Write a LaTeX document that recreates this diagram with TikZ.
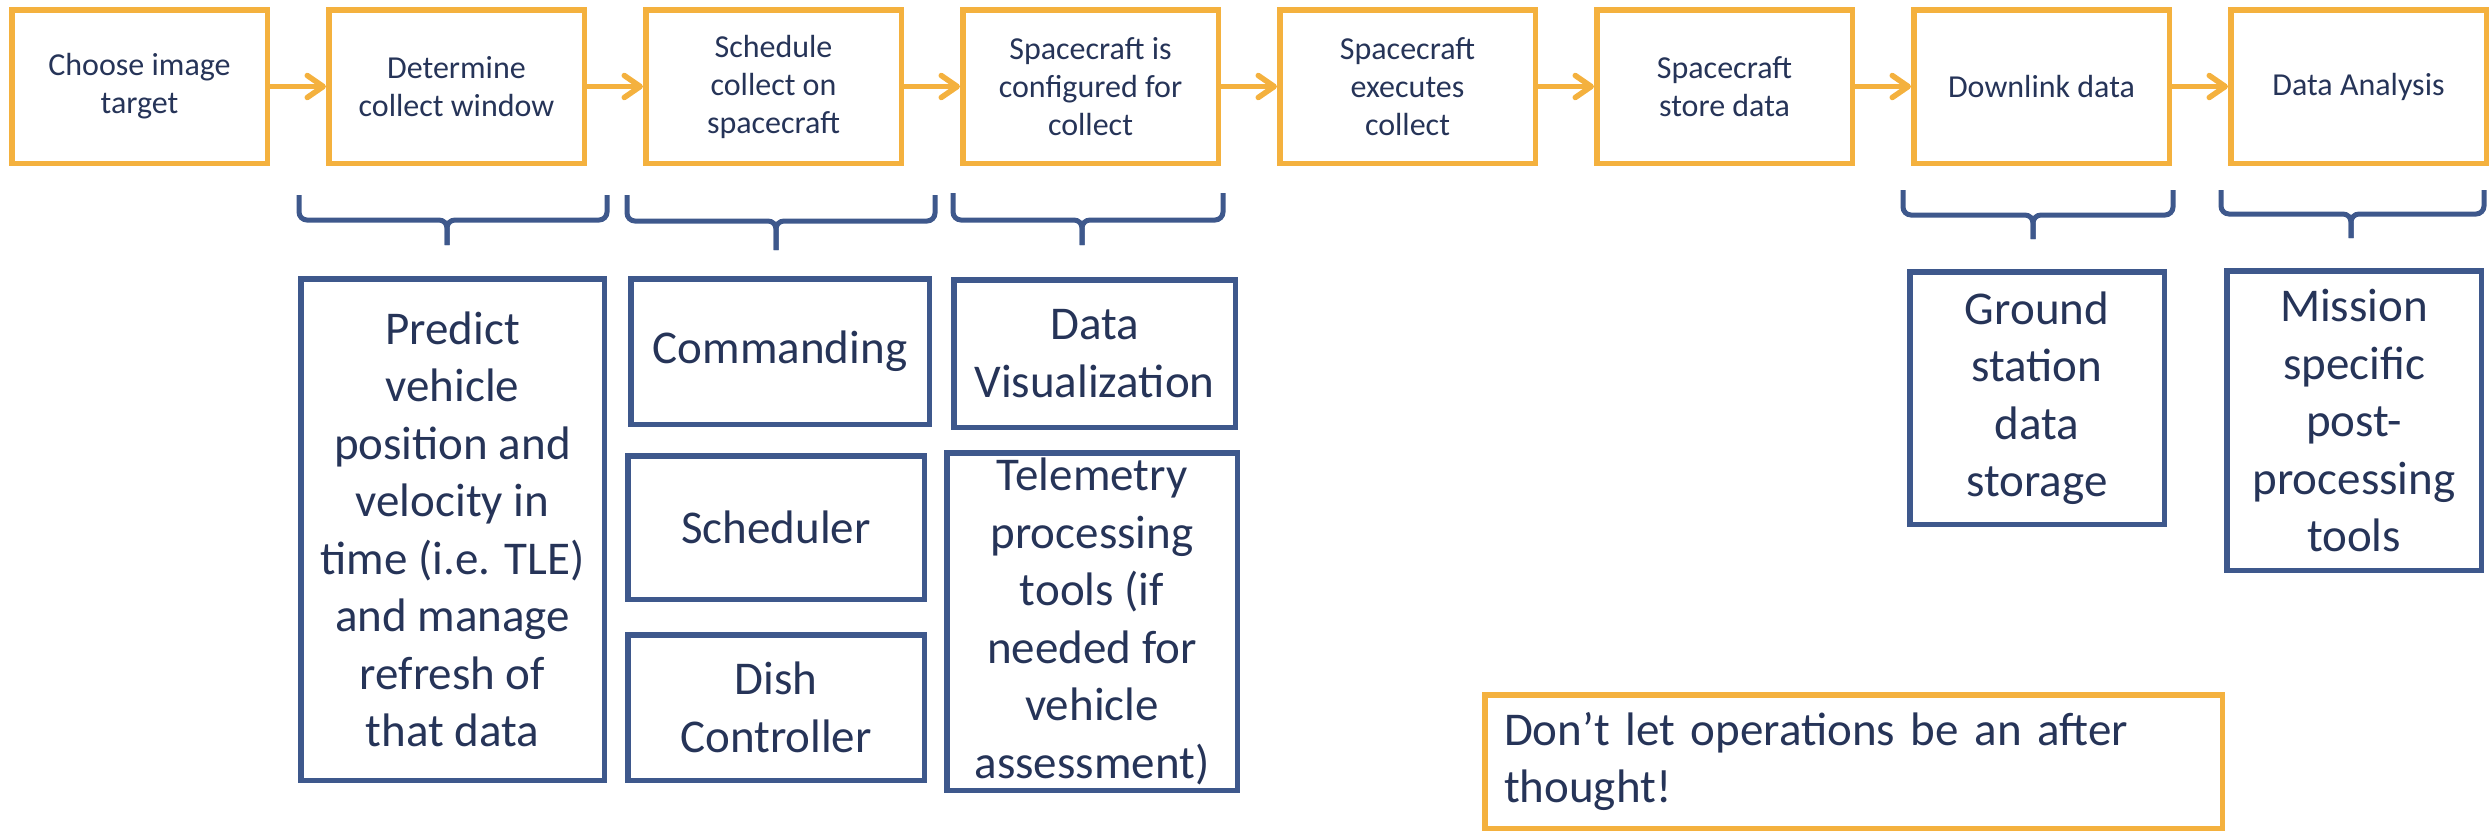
\documentclass[tikz,border=0pt]{standalone}
\usepackage{fontspec}
\setmainfont{Carlito}
\usetikzlibrary{arrows.meta}
\definecolor{gold}{HTML}{F4B13E}
\definecolor{navy}{HTML}{3E588C}
\definecolor{txt}{HTML}{263458}
\begin{document}
\begin{tikzpicture}[x=0.5pt,y=-0.5pt,
  stepbox/.style={draw=gold, line width=2.75pt, inner sep=0pt, align=center, text=txt,
    font=\fontsize{16}{19}\selectfont, minimum width=127.75pt, minimum height=76.75pt},
  toolbox/.style={draw=navy, line width=2.75pt, inner sep=0pt, align=center, text=txt,
    font=\fontsize{23.5}{28.75}\selectfont},
  arr/.style={draw=gold, line width=2.75pt, -{Straight Barb[length=8pt,width=11pt,round]}},
  brk/.style={draw=navy, line width=2.5pt, rounded corners=4pt}]
\useasboundingbox (0,0) rectangle (2491,831);

% process steps
\node[stepbox] (s1) at (139.5,86.5) {Choose image\\target};
\node[stepbox] (s2) at (456.5,86.5) {Determine\\collect window};
\node[stepbox] (s3) at (773.5,86.5) {Schedule\\collect on\\spacecraft};
\node[stepbox] (s4) at (1090.5,86.5) {Spacecraft is\\configured for\\collect};
\node[stepbox] (s5) at (1407.5,86.5) {Spacecraft\\executes\\collect};
\node[stepbox] (s6) at (1724.5,86.5) {Spacecraft\\store data};
\node[stepbox] (s7) at (2041.5,86.5) {Downlink data};
\node[stepbox] (s8) at (2358.5,86.5) {Data Analysis};

\draw[arr] (s1) -- (s2);
\draw[arr] (s2) -- (s3);
\draw[arr] (s3) -- (s4);
\draw[arr] (s4) -- (s5);
\draw[arr] (s5) -- (s6);
\draw[arr] (s6) -- (s7);
\draw[arr] (s7) -- (s8);

% brackets
\draw[brk] (299,195) |- (447,220) -- (447,245);
\draw[brk] (607,195) |- (447,220) -- (447,245);
\draw[brk] (627,195) |- (776,221) -- (776,250);
\draw[brk] (935,195) |- (776,221) -- (776,250);
\draw[brk] (953,193) |- (1082,220) -- (1082,245);
\draw[brk] (1223,193) |- (1082,220) -- (1082,245);
\draw[brk] (1903,190) |- (2033,215) -- (2033,239);
\draw[brk] (2173,190) |- (2033,215) -- (2033,239);
\draw[brk] (2221,190) |- (2351,214) -- (2351,238);
\draw[brk] (2484,190) |- (2351,214) -- (2351,238);

% tools
\node[toolbox, minimum width=151.75pt, minimum height=250.75pt] (predict) at (452.5,529.5)
  {Predict\\vehicle\\position and\\velocity in\\time (i.e. TLE)\\and manage\\refresh of\\that data};
\node[toolbox, minimum width=149.25pt, minimum height=72.75pt] (cmd) at (780,351.5) {Commanding};
\node[toolbox, minimum width=148.25pt, minimum height=71.75pt] (sched) at (776,527.5) {Scheduler};
\node[toolbox, minimum width=148.25pt, minimum height=72.75pt] (dish) at (776,707.5) {Dish\\Controller};
\node[toolbox, minimum width=140.75pt, minimum height=73.75pt] (viz) at (1094.5,353.5) {Data\\Visualization};
\node[toolbox, minimum width=145.25pt, minimum height=168.75pt] (tlm) at (1092,621.5)
  {Telemetry\\processing\\tools (if\\needed for\\vehicle\\assessment)};
\node[toolbox, minimum width=127.25pt, minimum height=126.25pt] (gnd) at (2037,398)
  {Ground\\station\\data\\storage};
\node[toolbox, minimum width=127.25pt, minimum height=149.75pt] (mis) at (2354,420.5)
  {Mission\\specific\\post-\\processing\\tools};

% note
\node[toolbox, draw=gold, align=left, text width=349.5pt, minimum width=368.75pt,
  minimum height=66.75pt] (note) at (1853.5,761.5)
  {Don’t let operations be an after\\thought!};
\end{tikzpicture}
\end{document}
